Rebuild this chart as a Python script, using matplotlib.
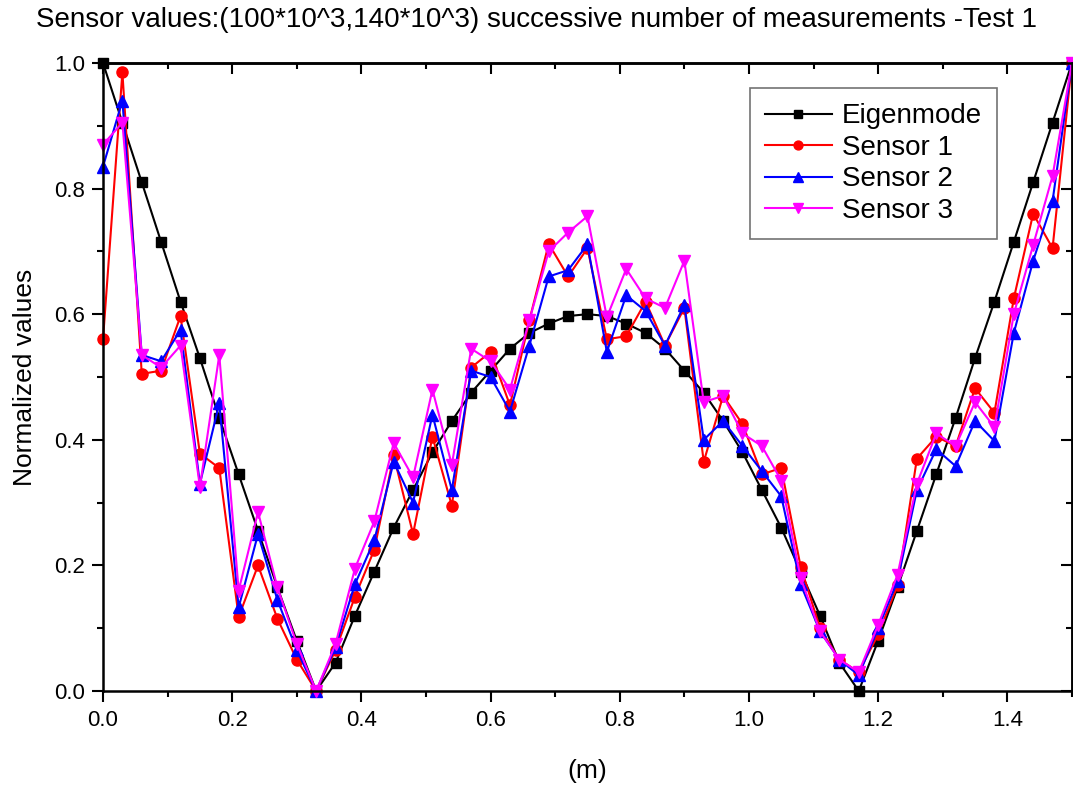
import numpy as np
import matplotlib.pyplot as plt
from matplotlib.ticker import MultipleLocator

# positions along the beam (m)
x = np.round(np.arange(0, 1.5001, 0.03), 2)

eigenmode = [1.0, 0.905, 0.81, 0.715, 0.62, 0.53, 0.435, 0.345, 0.255, 0.165, 0.08,
             0.0, 0.045, 0.12, 0.19, 0.26, 0.32, 0.38, 0.43, 0.475, 0.51,
             0.545, 0.57, 0.585, 0.597, 0.60, 0.597, 0.585, 0.57, 0.545, 0.51,
             0.475, 0.43, 0.38, 0.32, 0.26, 0.19, 0.12, 0.045, 0.0, 0.08,
             0.165, 0.255, 0.345, 0.435, 0.53, 0.62, 0.715, 0.81, 0.905, 1.0]
sensor1 = [0.56, 0.985, 0.505, 0.51, 0.597, 0.378, 0.355, 0.118, 0.2, 0.115, 0.05,
           0.0, 0.065, 0.15, 0.225, 0.375, 0.25, 0.405, 0.295, 0.515, 0.54,
           0.455, 0.59, 0.712, 0.66, 0.705, 0.56, 0.565, 0.62, 0.55, 0.61,
           0.365, 0.47, 0.425, 0.345, 0.355, 0.198, 0.1, 0.05, 0.03, 0.09,
           0.168, 0.37, 0.405, 0.39, 0.482, 0.443, 0.625, 0.76, 0.705, 1.0]
sensor2 = [0.835, 0.94, 0.535, 0.525, 0.575, 0.33, 0.458, 0.133, 0.25, 0.145, 0.065,
           0.0, 0.07, 0.17, 0.24, 0.365, 0.3, 0.44, 0.32, 0.51, 0.5,
           0.445, 0.55, 0.66, 0.67, 0.711, 0.54, 0.63, 0.605, 0.55, 0.615,
           0.40, 0.43, 0.39, 0.35, 0.31, 0.17, 0.095, 0.05, 0.025, 0.1,
           0.175, 0.32, 0.385, 0.358, 0.43, 0.398, 0.57, 0.685, 0.78, 1.0]
sensor3 = [0.87, 0.905, 0.535, 0.515, 0.55, 0.325, 0.535, 0.16, 0.285, 0.165, 0.075,
           0.0, 0.075, 0.195, 0.27, 0.395, 0.34, 0.48, 0.36, 0.545, 0.525,
           0.48, 0.59, 0.70, 0.73, 0.756, 0.595, 0.672, 0.625, 0.61, 0.685,
           0.46, 0.47, 0.41, 0.39, 0.335, 0.18, 0.095, 0.05, 0.03, 0.105,
           0.185, 0.33, 0.41, 0.39, 0.46, 0.42, 0.6, 0.71, 0.82, 1.0]

plt.rcParams['font.family'] = ['Liberation Sans', 'DejaVu Sans']

fig = plt.figure(figsize=(10.73, 7.87), dpi=100)
ax = fig.add_axes([0.096, 0.122, 0.903, 0.798])

ax.plot(x, eigenmode, color='black', marker='s', ms=7, lw=1.5, label='Eigenmode', clip_on=False)
ax.plot(x, sensor1, color='red', marker='o', ms=8, lw=1.5, label='Sensor 1', clip_on=False)
ax.plot(x, sensor2, color='blue', marker='^', ms=8.5, lw=1.5, label='Sensor 2', clip_on=False)
ax.plot(x, sensor3, color='magenta', marker='v', ms=8.5, lw=1.5, label='Sensor 3', clip_on=False)

ax.set_xlim(0, 1.5)
ax.set_ylim(0, 1.0)
ax.xaxis.set_major_locator(MultipleLocator(0.2))
ax.xaxis.set_minor_locator(MultipleLocator(0.1))
ax.yaxis.set_major_locator(MultipleLocator(0.2))
ax.yaxis.set_minor_locator(MultipleLocator(0.1))
ax.xaxis.set_major_formatter(lambda v, p: f'{v:.1f}')
ax.yaxis.set_major_formatter(lambda v, p: f'{v:.1f}')
ax.tick_params(which='major', direction='out', length=8, width=1.5, labelsize=16)
ax.tick_params(which='minor', direction='out', length=4.5, width=1.5)
ax.tick_params(axis='x', pad=6)
ax.tick_params(axis='y', pad=5)

# mirrored ticks on top and right, pointing inward
top = ax.secondary_xaxis('top')
top.set_ticks(np.arange(0, 1.51, 0.2))
top.xaxis.set_minor_locator(MultipleLocator(0.1))
right = ax.secondary_yaxis('right')
right.set_ticks(np.arange(0, 1.01, 0.2))
right.yaxis.set_minor_locator(MultipleLocator(0.1))
for sec in (top, right):
    sec.tick_params(which='major', direction='in', length=8, width=1.5,
                    labeltop=False, labelright=False)
    sec.tick_params(which='minor', direction='in', length=4.5, width=1.5)
top.spines['top'].set_linewidth(1.8)
right.spines['right'].set_linewidth(1.8)

for s in ax.spines.values():
    s.set_linewidth(1.8)

ax.set_xlabel('(m)', fontsize=19, labelpad=20)
ax.set_ylabel('Normalized values', fontsize=19, labelpad=12)
fig.text(0.5, 0.975, 'Sensor values:(100*10^3,140*10^3) successive number of measurements -Test 1',
         ha='center', va='center', fontsize=20)

leg = ax.legend(loc='upper right', bbox_to_anchor=(0.9226, 0.960), borderaxespad=0,
                fontsize=20, fancybox=False, edgecolor='0.45', framealpha=1,
                handlelength=2.4, handletextpad=0.35, borderpad=0.55,
                labelspacing=0.2, markerscale=0.8)
leg.get_frame().set_linewidth(1.2)

fig.savefig('out.png', dpi=100)
